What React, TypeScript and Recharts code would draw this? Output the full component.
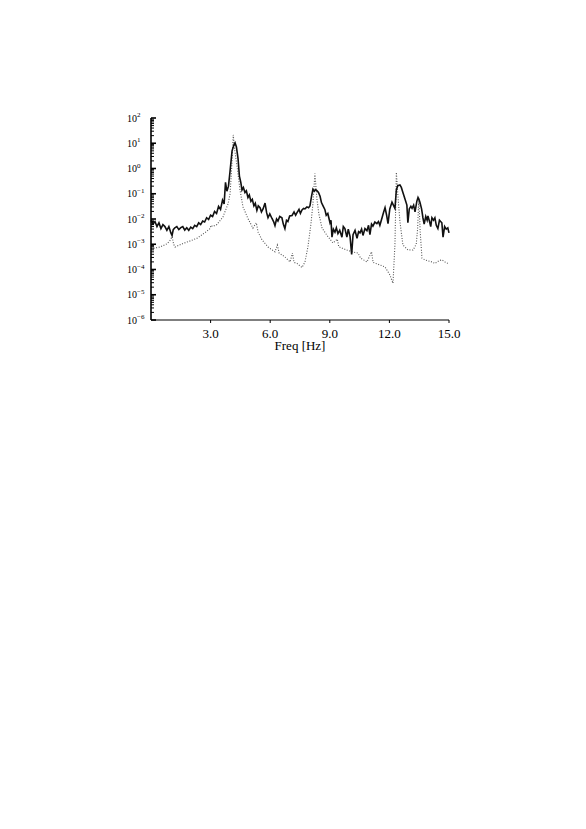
import { Line, LineChart, XAxis, YAxis } from 'recharts';

// measured response (solid): frequency [Hz] and log10 magnitude
const MEAS_FREQ = [
    0.0, 0.1, 0.2, 0.3, 0.4, 0.5, 0.6, 0.7, 0.8, 0.9, 1.0, 1.06, 1.12, 1.2, 1.3, 1.4, 1.5, 1.6, 1.7, 1.8,
    1.9, 2.0, 2.1, 2.2, 2.3, 2.4, 2.5, 2.6, 2.7, 2.8, 2.9, 3.0, 3.1, 3.2, 3.3, 3.4, 3.5, 3.6, 3.68, 3.75,
    3.82, 3.9, 3.98, 4.08, 4.18, 4.23, 4.3, 4.38, 4.45, 4.52, 4.58, 4.65, 4.73, 4.8, 4.88, 4.95, 5.03, 5.1,
    5.18, 5.25, 5.33, 5.4, 5.49, 5.56, 5.64, 5.74, 5.82, 5.89, 5.98, 6.09, 6.17, 6.24, 6.32, 6.39, 6.48,
    6.59, 6.66, 6.74, 6.82, 6.89, 6.98, 7.1, 7.2, 7.28, 7.35, 7.45, 7.52, 7.6, 7.68, 7.75, 7.85, 7.93, 8.0,
    8.08, 8.15, 8.22, 8.28, 8.35, 8.43, 8.51, 8.58, 8.66, 8.75, 8.82, 8.9, 9.01, 9.06, 9.11, 9.18, 9.26,
    9.33, 9.41, 9.5, 9.61, 9.68, 9.76, 9.86, 9.93, 10.02, 10.1, 10.17, 10.27, 10.37, 10.45, 10.52, 10.6,
    10.67, 10.77, 10.87, 10.95, 11.02, 11.1, 11.17, 11.27, 11.37, 11.45, 11.52, 11.63, 11.7, 11.78, 11.86,
    11.93, 12.02, 12.13, 12.2, 12.28, 12.35, 12.42, 12.53, 12.6, 12.68, 12.78, 12.88, 12.93, 13.0, 13.08,
    13.14, 13.22, 13.29, 13.38, 13.44, 13.5, 13.54, 13.62, 13.69, 13.75, 13.83, 13.9, 13.94, 14.02, 14.08,
    14.14, 14.22, 14.29, 14.36, 14.44, 14.52, 14.58, 14.64, 14.7, 14.78, 14.86, 14.94, 15.0,
];
const MEAS_LOG = [
    -2.05, -2.2, -2.1, -2.3, -2.15, -2.38, -2.22, -2.3, -2.45, -2.3, -2.55, -2.65, -2.42, -2.35, -2.3, -2.42, -2.34, -2.3, -2.44, -2.35,
    -2.45, -2.32, -2.38, -2.25, -2.3, -2.15, -2.22, -2.08, -2.12, -1.95, -2.02, -1.85, -1.9, -1.7, -1.78, -1.5, -1.62, -1.25, -1.4, -0.55,
    -0.9, -0.7, -0.1, 0.7, 0.95, 1.02, 0.85, 0.4, -0.3, -0.55, -0.85, -0.75, -0.95, -0.88, -1.15, -1.05, -1.3, -1.22,
    -1.48, -1.38, -1.66, -1.48, -1.55, -1.72, -1.6, -1.37, -1.75, -1.95, -1.8, -1.98, -2.1, -2.26, -2.0, -2.08, -1.9,
    -1.95, -2.2, -2.38, -2.05, -2.1, -1.88, -1.86, -1.72, -1.85, -1.75, -1.62, -1.78, -1.64, -1.58, -1.6, -1.52, -1.55, -1.48,
    -1.1, -0.82, -0.9, -0.84, -0.88, -0.95, -1.1, -1.35, -1.48, -1.62, -1.85, -1.78, -2.15, -2.05, -2.72, -2.4, -2.52,
    -2.35, -2.58, -2.45, -2.72, -2.3, -2.38, -2.72, -2.4, -2.7, -3.4, -2.62, -2.45, -2.76, -2.5, -2.55, -2.4,
    -2.65, -2.38, -2.46, -2.25, -2.62, -2.2, -2.28, -2.12, -2.18, -2.1, -2.25, -1.95, -1.75, -1.55, -1.85,
    -2.18, -1.6, -1.33, -1.45, -1.58, -0.85, -0.68, -0.65, -0.75, -0.95, -1.2, -1.45, -2.15, -1.6, -1.5,
    -1.58, -1.45, -1.72, -1.3, -1.15, -1.25, -1.35, -1.6, -1.96, -2.2, -1.9, -2.05, -1.88, -2.1, -2.3,
    -1.95, -2.05, -1.95, -2.25, -2.38, -2.05, -2.1, -2.15, -2.72, -2.3, -2.4, -2.35, -2.55,
];

// computed response (dotted)
const CALC_FREQ = [
    0.0, 0.45, 0.81, 0.96, 1.06, 1.14, 1.21, 1.61, 2.0, 2.32, 2.7, 2.97, 3.02, 3.1, 3.32, 3.62, 3.88, 3.98,
    4.06, 4.14, 4.22, 4.33, 4.48, 4.63, 4.88, 5.13, 5.3, 5.39, 5.59, 5.89, 6.24, 6.36, 6.45, 6.74, 7.0, 7.12,
    7.2, 7.35, 7.6, 7.75, 7.9, 8.05, 8.15, 8.25, 8.35, 8.45, 8.61, 8.86, 9.16, 9.38, 9.45, 9.86, 10.17, 10.42,
    10.55, 10.87, 11.1, 11.18, 11.52, 11.78, 12.03, 12.18, 12.28, 12.35, 12.43, 12.53, 12.68, 12.93, 13.19,
    13.35, 13.42, 13.48, 13.55, 13.64, 13.79, 14.14, 14.29, 14.5, 14.64, 14.8, 15.0,
];
const CALC_LOG = [
    -3.18, -3.11, -2.98, -2.85, -2.7, -3.0, -3.11, -2.97, -2.86, -2.76, -2.55, -2.38, -2.25, -2.3, -2.22, -1.92, -1.4, -1.0,
    0.0, 1.33, 0.7, 0.1, -0.85, -1.52, -1.98, -2.36, -2.15, -2.52, -2.83, -3.11, -3.3, -3.03, -3.35, -3.5, -3.7, -3.35,
    -3.72, -3.76, -3.92, -3.7, -3.1, -2.2, -1.4, -0.2, -1.2, -1.8, -2.36, -2.65, -2.95, -2.8, -3.1, -3.23, -3.31, -3.35,
    -3.55, -3.7, -3.3, -3.72, -3.82, -3.9, -4.22, -4.55, -3.0, -0.15, -1.1, -2.1, -3.03, -3.22, -3.23,
    -3.0, -2.4, -1.15, -2.5, -3.55, -3.62, -3.7, -3.76, -3.65, -3.62, -3.7, -3.78,
];

const X_TICKS = [3, 6, 9, 12, 15];
const DECADES = [-6, -5, -4, -3, -2, -1, 0, 1, 2];
const MINOR = [2, 3, 4, 5, 6, 7, 8, 9];

const FONT = '"Liberation Serif", "Times New Roman", serif';

const measured = MEAS_FREQ.map((f, i) => ({ f, v: Math.pow(10, MEAS_LOG[i]) }));
const computed = CALC_FREQ.map((f, i) => ({ f, v: Math.pow(10, CALC_LOG[i]) }));

const yTicks: number[] = [];
DECADES.forEach((d) => {
    yTicks.push(Math.pow(10, d));
    if (d < 2) MINOR.forEach((m) => yTicks.push(m * Math.pow(10, d)));
});

function YTick(props: any) {
    const { x, y, payload } = props;
    const v = payload.value as number;
    const exp = Math.round(Math.log10(v));
    const major = Math.abs(v - Math.pow(10, exp)) / v < 1e-6;
    const expText = exp < 0 ? `\u2212${-exp}` : `${exp}`;
    return (
        <g>
            <line x1={x} x2={x + (major ? 5 : 3)} y1={y} y2={y} stroke="#000" strokeWidth={major ? 1.6 : 1} />
            {major && (
                <text x={x - 24} y={y + 3.5} fontSize={10} fontFamily={FONT} fill="#000">
                    10
                    <tspan dy={-4.5} fontSize={7}>
                        {expText}
                    </tspan>
                </text>
            )}
        </g>
    );
}

export default function App() {
    return (
        <div style={{ width: 570, height: 400 }}>
            <LineChart width={570} height={400} margin={{ top: 110, right: 129, bottom: 56, left: 103 }}>
                <XAxis
                    type="number"
                    dataKey="f"
                    domain={[0, 15]}
                    ticks={X_TICKS}
                    tickFormatter={(v: number) => v.toFixed(1)}
                    tickSize={3}
                    tickMargin={6}
                    height={32}
                    axisLine={{ stroke: '#000', strokeWidth: 1.2 }}
                    tickLine={{ stroke: '#000' }}
                    tick={{ fill: '#000', fontSize: 13, fontFamily: FONT }}
                    label={{ value: 'Freq [Hz]', position: 'insideBottom', offset: 2, fill: '#000', fontSize: 13, fontFamily: FONT }}
                />
                <YAxis
                    type="number"
                    scale="log"
                    domain={[1e-6, 100]}
                    allowDataOverflow
                    ticks={yTicks}
                    interval={0}
                    width={40}
                    tickSize={0}
                    tickMargin={0}
                    tickLine={false}
                    axisLine={{ stroke: '#000', strokeWidth: 1.6 }}
                    tick={<YTick />}
                />
                <Line
                    data={computed}
                    dataKey="v"
                    type="linear"
                    stroke="#555"
                    strokeWidth={1.1}
                    strokeDasharray="1 1.6"
                    dot={false}
                    isAnimationActive={false}
                />
                <Line
                    data={measured}
                    dataKey="v"
                    type="linear"
                    stroke="#111"
                    strokeWidth={1.6}
                    dot={false}
                    isAnimationActive={false}
                />
            </LineChart>
        </div>
    );
}
